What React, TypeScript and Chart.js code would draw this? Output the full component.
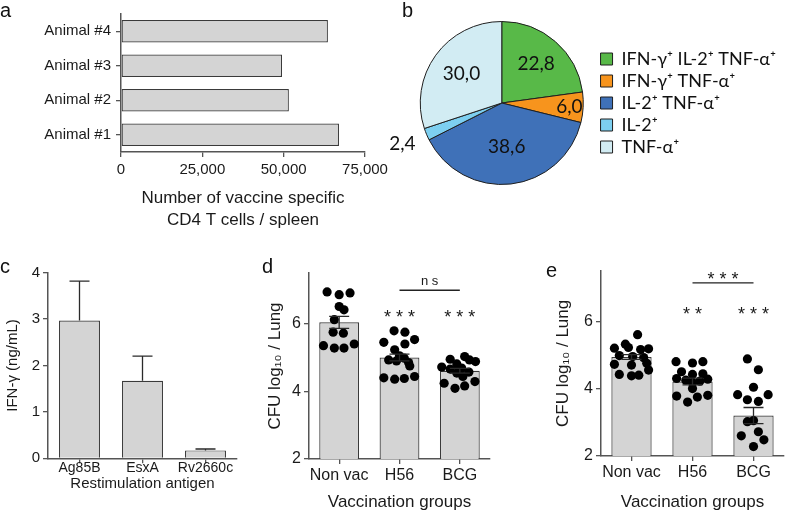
import React, { useEffect, useRef } from 'react';
import { Chart, registerables } from 'chart.js';

Chart.register(...registerables);

const FONT = '"Liberation Sans", Arial, Helvetica, sans-serif';
const PIE_FONT = 'Lato, "Open Sans", sans-serif';
Chart.defaults.font.family = FONT;
Chart.defaults.color = '#1a1a1a';

// ---------------- Panel a ----------------
const animalLabels = ['Animal #1', 'Animal #2', 'Animal #3', 'Animal #4'];
const animalCellCounts = [67000, 51600, 49500, 63600];
const animalAxisTicks = [0, 25000, 50000, 75000];

// ---------------- Panel b ----------------
const subsetLabels = ['IFN-γ⁺ IL-2⁺ TNF-α⁺', 'IFN-γ⁺ TNF-α⁺', 'IL-2⁺ TNF-α⁺', 'IL-2⁺', 'TNF-α⁺'];
const subsetPercents = [22.8, 6.0, 38.6, 2.4, 30.0];
const subsetColors = ['#58b948', '#f7941d', '#3f71b8', '#7dcff0', '#d2ecf3'];

// ---------------- Panel c ----------------
const antigenLabels = ['Ag85B', 'EsxA', 'Rv2660c'];
const ifnGammaMeans = [2.97, 1.67, 0.17];
const ifnGammaErrors = [0.85, 0.53, 0.03];
const ifnAxisTicks = [0, 1, 2, 3, 4];

// ---------------- Panels d / e ----------------
const groupLabels = ['Non vac', 'H56', 'BCG'];
const cfuAxisTicks = [2, 4, 6];
const cfuAxisMax = 7.5;

const dMeans = [6.04, 5.0, 4.61];
const dSem = [0.18, 0.1, 0.07];
const dNonVacValues = [6.94, 6.86, 6.91, 6.51, 6.41, 6.12, 5.75, 5.72, 5.35, 5.28, 5.28, 5.4];
const dNonVacJitter = [-0.2, 0, 0.18, 0, 0.08, -0.08, -0.1, 0.07, -0.26, -0.08, 0.08, 0.25];
const dH56Values = [5.79, 5.75, 5.45, 5.53, 5.4, 5.23, 5.05, 4.98, 4.93, 4.9, 4.85, 4.4, 4.36, 4.38, 4.44, 4.75];
const dH56Jitter = [-0.09, 0.09, -0.26, 0.25, 0.09, -0.08, 0, 0.08, -0.18, -0.05, 0.15, -0.26, -0.08, 0.08, 0.25, 0.17];
const dBcgValues = [4.95, 5.03, 4.93, 4.81, 4.66, 4.69, 4.57, 4.54, 4.44, 4.24, 4.09, 4.16, 4.29, 4.88, 4.72];
const dBcgJitter = [-0.16, 0.08, 0.16, -0.05, -0.16, 0.03, 0.15, -0.05, 0.05, -0.26, -0.08, 0.08, 0.25, 0.26, -0.3];
const dStars = ['', '* * *', '* * *'];
const dStarsLevel = 6.33;
const dCompareFrom = 1;
const dCompareTo = 2;
const dCompareLevel = 6.99;
const dCompareLabel = 'n s';
const dCompareLabelLevel = 7.24;

const eMeans = [4.94, 4.21, 3.2];
const eSem = [0.07, 0.1, 0.24];
const eNonVacValues = [5.6, 5.32, 5.2, 5.18, 5.22, 5.16, 4.98, 4.95, 4.92, 4.72, 4.7, 4.75, 4.42, 4.38, 4.4, 4.55];
const eNonVacJitter = [0.1, -0.1, -0.28, 0.28, -0.05, 0.15, -0.2, 0.02, 0.2, -0.28, 0.0, 0.25, -0.2, 0.0, 0.12, 0.28];
const eH56Values = [4.8, 4.76, 4.8, 4.5, 4.42, 4.44, 4.3, 4.25, 4.22, 4.28, 4.18, 4.0, 3.78, 3.6, 3.75, 3.8];
const eH56Jitter = [-0.27, 0, 0.17, -0.18, 0, 0.17, -0.26, -0.11, 0.12, 0.25, 0, 0, -0.26, -0.08, 0.08, 0.25];
const eBcgValues = [4.88, 4.56, 4.04, 3.82, 3.67, 3.62, 3.82, 3.02, 3.05, 2.6, 2.72, 2.48, 2.28];
const eBcgJitter = [-0.1, 0.08, 0, -0.26, -0.1, 0.08, 0.24, -0.1, 0, -0.2, 0.08, 0.17, 0];
const eStars = ['', '* *', '* * *'];
const eStarsLevel = 6.35;
const eCompareFrom = 1;
const eCompareTo = 2;
const eCompareLevel = 7.14;
const eCompareLabel = '* * *';
const eCompareLabelLevel = 7.39;

// ---------------- styles ----------------
const AXIS = '#555555';
const TEXT = '#1a1a1a';
const BAR_FILL = '#d4d4d4';
const BAR_EDGE = '#3a3a3a';

function axisStyle(tickLength: number) {
  return {
    grid: { display: true, drawOnChartArea: false, drawTicks: true, tickLength, color: AXIS, lineWidth: 1.3, offset: false },
    border: { display: true, color: AXIS, width: 1.5 },
  };
}

function errorBarsPlugin(values: number[], errors: number[], both: boolean, cap: number) {
  return {
    id: 'errorBars',
    afterDatasetsDraw(chart: any) {
      const { ctx } = chart;
      const y = chart.scales.y;
      const meta = chart.getDatasetMeta(0);
      ctx.save();
      ctx.strokeStyle = '#2a2a2a';
      ctx.lineWidth = 1.3;
      meta.data.forEach((el: any, i: number) => {
        const v = values[i];
        const yt = y.getPixelForValue(v + errors[i]);
        const yb = y.getPixelForValue(both ? v - errors[i] : v);
        const cx = el.x;
        ctx.beginPath();
        ctx.moveTo(cx, yt);
        ctx.lineTo(cx, yb);
        ctx.moveTo(cx - cap / 2, yt);
        ctx.lineTo(cx + cap / 2, yt);
        if (both) {
          ctx.moveTo(cx - cap / 2, yb);
          ctx.lineTo(cx + cap / 2, yb);
        }
        ctx.stroke();
      });
      ctx.restore();
    },
  };
}

function significancePlugin(stars: string[], starsLevel: number, from: number, to: number, level: number, label: string, labelLevel: number) {
  return {
    id: 'significance',
    afterDatasetsDraw(chart: any) {
      const { ctx } = chart;
      const x = chart.scales.x;
      const y = chart.scales.y;
      ctx.save();
      ctx.fillStyle = TEXT;
      ctx.textAlign = 'center';
      ctx.textBaseline = 'alphabetic';
      const starSize = 18;
      ctx.font = `${starSize}px ${FONT}`;
      stars.forEach((s, i) => {
        if (s) ctx.fillText(s, x.getPixelForValue(i), y.getPixelForValue(starsLevel) + 0.585 * starSize);
      });
      const x1 = x.getPixelForValue(from);
      const x2 = x.getPixelForValue(to);
      const yl = y.getPixelForValue(level);
      ctx.strokeStyle = '#222';
      ctx.lineWidth = 1.3;
      ctx.beginPath();
      ctx.moveTo(x1, yl);
      ctx.lineTo(x2, yl);
      ctx.stroke();
      const isStars = label.indexOf('*') >= 0;
      const sz = isStars ? starSize : 13;
      ctx.font = `${sz}px ${FONT}`;
      ctx.fillText(label, (x1 + x2) / 2, y.getPixelForValue(labelLevel) + (isStars ? 0.585 : 0.26) * sz);
      ctx.restore();
    },
  };
}

function pieValuePlugin(radialFactors: number[]) {
  return {
    id: 'pieValues',
    afterDatasetsDraw(chart: any) {
      const { ctx } = chart;
      const meta = chart.getDatasetMeta(0);
      const ds = chart.data.datasets[0];
      ctx.save();
      ctx.fillStyle = '#111';
      ctx.font = `19px ${PIE_FONT}`;
      ctx.textAlign = 'center';
      ctx.textBaseline = 'middle';
      meta.data.forEach((arc: any, i: number) => {
        const p = arc.getProps(['x', 'y', 'startAngle', 'endAngle', 'outerRadius'], true);
        const mid = (p.startAngle + p.endAngle) / 2;
        const r = p.outerRadius * radialFactors[i];
        const txt = (ds.data[i] as number).toFixed(1).replace('.', ',');
        ctx.fillText(txt, p.x + Math.cos(mid) * r, p.y + Math.sin(mid) * r);
      });
      ctx.restore();
    },
  };
}

function groupChartConfig(
  means: number[], sem: number[], groups: number[][], jitters: number[][],
  yWidth: number, xHeight: number, pad: any, yTitlePad: number, sig: any,
) {
  const scatterSets = groups.map((vals, g) => ({
    type: 'scatter',
    order: 0,
    data: vals.map((v, i) => ({ x: g + jitters[g][i], y: v })),
    pointRadius: 4.6,
    pointBackgroundColor: '#000',
    pointBorderWidth: 0,
    pointHoverRadius: 4.6,
  }));
  return {
    type: 'bar',
    data: {
      datasets: [
        {
          type: 'bar', order: 1,
          data: means.map((m, i) => ({ x: i, y: m })),
          backgroundColor: BAR_FILL, borderColor: BAR_EDGE, borderWidth: 1.2,
          barPercentage: 0.66, categoryPercentage: 1, grouped: false,
        },
        ...scatterSets,
      ],
    },
    options: {
      animation: false, responsive: false, devicePixelRatio: 1,
      layout: { autoPadding: false, padding: pad },
      plugins: { legend: { display: false }, tooltip: { enabled: false } },
      scales: {
        x: {
          type: 'linear', offset: false, ...axisStyle(5),
          min: -0.5, max: groupLabels.length - 0.5,
          afterBuildTicks: (s: any) => { s.ticks = groupLabels.map((_, i) => ({ value: i })); },
          ticks: {
            autoSkip: false, maxRotation: 0, minRotation: 0,
            color: TEXT, font: { size: 16 }, padding: 2,
            callback: (v: any) => groupLabels[Math.round(Number(v))] ?? '',
          },
          title: { display: true, text: 'Vaccination groups', color: TEXT, font: { size: 17, lineHeight: 1.0 }, padding: { top: 0, bottom: 0 } },
          afterFit: (s: any) => { s.height = xHeight; },
        },
        y: {
          type: 'linear', ...axisStyle(5),
          min: cfuAxisTicks[0], max: cfuAxisMax,
          afterBuildTicks: (s: any) => { s.ticks = cfuAxisTicks.map((v) => ({ value: v })); },
          ticks: { color: TEXT, font: { size: 16 }, padding: 3 },
          title: { display: true, text: 'CFU log₁₀ / Lung', color: TEXT, font: { size: 17 }, padding: { top: yTitlePad, bottom: 0 } },
          afterFit: (s: any) => { s.width = yWidth; },
        },
      },
    },
    plugins: [errorBarsPlugin(means, sem, true, 20), significancePlugin(sig[0], sig[1], sig[2], sig[3], sig[4], sig[5], sig[6])],
  };
}

const configA = () => ({
  type: 'bar',
  data: {
    labels: animalLabels,
    datasets: [{ data: animalCellCounts, backgroundColor: BAR_FILL, borderColor: BAR_EDGE, borderWidth: 1.2, borderSkipped: false, barPercentage: 0.65, categoryPercentage: 1 }],
  },
  options: {
    indexAxis: 'y', animation: false, responsive: false, devicePixelRatio: 1,
    layout: { autoPadding: false, padding: { left: 0, right: 35, top: 7.5, bottom: 1 } },
    plugins: { legend: { display: false }, tooltip: { enabled: false } },
    scales: {
      y: {
        reverse: true, ...axisStyle(5),
        ticks: { color: TEXT, font: { size: 15 }, padding: 5 },
        afterFit: (s: any) => { s.width = 121; },
      },
      x: {
        ...axisStyle(5),
        min: animalAxisTicks[0], max: animalAxisTicks[animalAxisTicks.length - 1],
        afterBuildTicks: (s: any) => { s.ticks = animalAxisTicks.map((v) => ({ value: v })); },
        ticks: { color: TEXT, font: { size: 15 }, padding: 4, callback: (v: any) => Number(v).toLocaleString('en-US') },
        title: { display: true, text: ['Number of vaccine specific', 'CD4 T cells / spleen'], color: TEXT, font: { size: 17, lineHeight: 1.3 }, padding: { top: 0, bottom: 0 } },
        afterFit: (s: any) => { s.height = 79; },
      },
    },
  },
});

const configB = () => ({
  type: 'pie',
  data: {
    labels: subsetLabels,
    datasets: [{ data: subsetPercents, backgroundColor: subsetColors, borderColor: '#1f1f1f', borderWidth: 1 }],
  },
  options: {
    animation: false, responsive: false, devicePixelRatio: 1,
    layout: { autoPadding: false, padding: { left: 21, right: 0, top: 21, bottom: 25 } },
    plugins: {
      legend: {
        position: 'right',
        labels: { boxWidth: 12, boxHeight: 12, padding: 4, color: '#111', font: { family: PIE_FONT, size: 18 } },
      },
      tooltip: { enabled: false },
    },
  },
  plugins: [pieValuePlugin([0.64, 0.83, 0.54, 1.32, 0.61])],
});

const configC = () => ({
  type: 'bar',
  data: {
    labels: antigenLabels,
    datasets: [{ data: ifnGammaMeans, backgroundColor: BAR_FILL, borderColor: BAR_EDGE, borderWidth: 1.2, barPercentage: 0.65, categoryPercentage: 1 }],
  },
  options: {
    animation: false, responsive: false, devicePixelRatio: 1,
    layout: { autoPadding: false, padding: { left: 0, right: 8, top: 22.7, bottom: 0 } },
    plugins: { legend: { display: false }, tooltip: { enabled: false } },
    scales: {
      x: {
        ...axisStyle(5),
        ticks: { color: TEXT, font: { size: 14 }, padding: -4, maxRotation: 0, autoSkip: false },
        title: { display: true, text: 'Restimulation antigen', color: TEXT, font: { size: 15 }, padding: { top: 0, bottom: 18 } },
        afterFit: (s: any) => { s.height = 52.7; },
      },
      y: {
        ...axisStyle(5),
        min: ifnAxisTicks[0], max: ifnAxisTicks[ifnAxisTicks.length - 1],
        afterBuildTicks: (s: any) => { s.ticks = ifnAxisTicks.map((v) => ({ value: v })); },
        ticks: { color: TEXT, font: { size: 15 }, padding: 3 },
        title: { display: true, text: 'IFN-γ (ng/mL)', color: TEXT, font: { size: 15 }, padding: { top: 4, bottom: 0 } },
        afterFit: (s: any) => { s.width = 48; },
      },
    },
  },
  plugins: [errorBarsPlugin(ifnGammaMeans, ifnGammaErrors, false, 20)],
});

const configD = () => groupChartConfig(
  dMeans, dSem, [dNonVacValues, dH56Values, dBcgValues], [dNonVacJitter, dH56Jitter, dBcgJitter],
  69, 52, { left: 0, right: 20, top: 23, bottom: 0 }, 25,
  [dStars, dStarsLevel, dCompareFrom, dCompareTo, dCompareLevel, dCompareLabel, dCompareLabelLevel],
);

const configE = () => groupChartConfig(
  eMeans, eSem, [eNonVacValues, eH56Values, eBcgValues], [eNonVacJitter, eH56Jitter, eBcgJitter],
  91, 55, { left: 0, right: 3, top: 20.7, bottom: 0 }, 43,
  [eStars, eStarsLevel, eCompareFrom, eCompareTo, eCompareLevel, eCompareLabel, eCompareLabelLevel],
);

function ChartBox(props: { left: number; top: number; width: number; height: number; config: () => any }) {
  const ref = useRef<HTMLCanvasElement>(null);
  useEffect(() => {
    const chart = new Chart(ref.current as HTMLCanvasElement, props.config());
    return () => chart.destroy();
  }, []);
  return (
    <canvas
      ref={ref}
      width={props.width}
      height={props.height}
      style={{ position: 'absolute', left: props.left, top: props.top, width: props.width, height: props.height }}
    />
  );
}

function PanelLetter(props: { left: number; top: number; text: string }) {
  return (
    <div style={{ position: 'absolute', left: props.left, top: props.top, font: `20px ${FONT}`, lineHeight: '20px', color: '#111' }}>
      {props.text}
    </div>
  );
}

export default function App() {
  return (
    <div style={{ position: 'fixed', left: 0, top: 0, width: 787, height: 511, overflow: 'hidden', background: '#fff' }}>
      <ChartBox left={0} top={0} width={400} height={232} config={configA} />
      <ChartBox left={386} top={0} width={400} height={210} config={configB} />
      <ChartBox left={0} top={250} width={245} height={261} config={configC} />
      <ChartBox left={240} top={250} width={270} height={261} config={configD} />
      <ChartBox left={510} top={250} width={277} height={261} config={configE} />
      <PanelLetter left={0} top={0} text="a" />
      <PanelLetter left={402} top={0} text="b" />
      <PanelLetter left={0} top={256} text="c" />
      <PanelLetter left={262} top={256} text="d" />
      <PanelLetter left={546} top={260} text="e" />
    </div>
  );
}
